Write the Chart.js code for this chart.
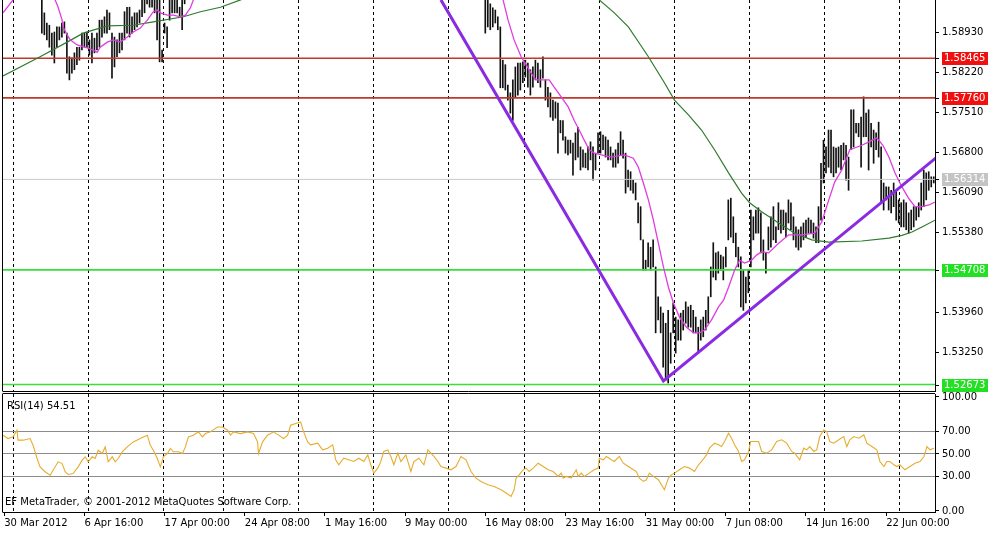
<!DOCTYPE html>
<html>
<head>
<meta charset="utf-8">
<script src="https://cdn.jsdelivr.net/npm/chart.js@4.4.0/dist/chart.umd.min.js"></script>
<style>
  html, body { margin: 0; padding: 0; background: #fff; }
  #wrap { position: relative; width: 1001px; height: 538px; overflow: hidden; }
  #priceChart { position: absolute; left: 0; top: 0; }
  #rsiChart { position: absolute; left: 0; top: 392px; }
</style>
</head>
<body>
<div id="wrap">
  <canvas id="priceChart" width="1001" height="392"></canvas>
  <canvas id="rsiChart" width="1001" height="146"></canvas>
</div>
<script>
// H4 bars, indexed from the left edge of the window
const barTotal = 372;
const barsPerLabel = 32;
const dateLabels = ["30 Mar 2012", "6 Apr 16:00", "17 Apr 00:00", "24 Apr 08:00", "1 May 16:00", "9 May 00:00",
  "16 May 08:00", "23 May 16:00", "31 May 00:00", "7 Jun 08:00", "14 Jun 16:00", "22 Jun 00:00"];
const gridBars = [3.5, 33.5, 63.5, 87.5, 117.5, 147.5, 177.5, 207.5, 237.5, 267.5, 297.5, 327.5, 357.5];

const priceMin = 1.52558;
const priceMax = 1.59498;
const priceTicks = [1.58930, 1.58220, 1.57510, 1.56800, 1.56090, 1.55380, 1.53960, 1.53250];
const levelPrices = [1.58465, 1.57760, 1.56314, 1.54708, 1.52673];
const levelKinds = ["resistance", "resistance", "bid", "support", "support"];

// bars before index 15 and between 73 and 191 are above the visible price range
const leftStart = 15;
const leftHigh = [1.5959, 1.5927, 1.5909, 1.5905, 1.5891, 1.5893, 1.5902, 1.5902, 1.5909, 1.5911,
  1.5891, 1.5849, 1.5847, 1.5856, 1.5866, 1.5866, 1.5891, 1.5891, 1.5893, 1.5879,
  1.5891, 1.5882, 1.5891, 1.5914, 1.5914, 1.5920, 1.5932, 1.5927, 1.5891, 1.5884,
  1.5879, 1.5891, 1.5891, 1.5929, 1.5937, 1.5937, 1.5920, 1.5927, 1.5927, 1.5932,
  1.5955, 1.5959, 1.5962, 1.5959, 1.5959, 1.5955, 1.5955, 1.5955, 1.5861, 1.5909,
  1.5902, 1.5955, 1.5959, 1.5959, 1.5959, 1.5937, 1.5955, 1.5959];
const leftLow = [1.5891, 1.5888, 1.5879, 1.5866, 1.5852, 1.5838, 1.5866, 1.5879, 1.5884, 1.5891,
  1.5820, 1.5808, 1.5820, 1.5826, 1.5835, 1.5843, 1.5861, 1.5866, 1.5865, 1.5852,
  1.5838, 1.5856, 1.5861, 1.5866, 1.5884, 1.5891, 1.5891, 1.5897, 1.5811, 1.5831,
  1.5849, 1.5856, 1.5861, 1.5879, 1.5891, 1.5884, 1.5891, 1.5897, 1.5902, 1.5909,
  1.5920, 1.5927, 1.5943, 1.5937, 1.5937, 1.5927, 1.5879, 1.5840, 1.5840, 1.5891,
  1.5865, 1.5914, 1.5927, 1.5927, 1.5927, 1.5920, 1.5897, 1.5943];

const rightStart = 192;
const rightHigh = [1.5955, 1.5955, 1.5943, 1.5936, 1.5932, 1.5920, 1.5902, 1.5843, 1.5835, 1.5799,
  1.5785, 1.5808, 1.5831, 1.5838, 1.5838, 1.5840, 1.5843, 1.5838, 1.5826, 1.5831,
  1.5843, 1.5838, 1.5826, 1.5849, 1.5808, 1.5795, 1.5785, 1.5772, 1.5769, 1.5767,
  1.5736, 1.5736, 1.5707, 1.5701, 1.5701, 1.5696, 1.5714, 1.5724, 1.5689, 1.5684,
  1.5678, 1.5689, 1.5698, 1.5689, 1.5678, 1.5714, 1.5716, 1.5710, 1.5707, 1.5701,
  1.5689, 1.5678, 1.5684, 1.5696, 1.5716, 1.5701, 1.5678, 1.5648, 1.5645, 1.5630,
  1.5625, 1.5590, 1.5583, 1.5524, 1.5488, 1.5519, 1.5511, 1.5524, 1.5476, 1.5423,
  1.5405, 1.5394, 1.5376, 1.5399, 1.5359, 1.5412, 1.5387, 1.5382, 1.5394, 1.5399,
  1.5414, 1.5405, 1.5408, 1.5399, 1.5387, 1.5369, 1.5382, 1.5387, 1.5399, 1.5423,
  1.5476, 1.5519, 1.5501, 1.5503, 1.5497, 1.5494, 1.5511, 1.5595, 1.5598, 1.5565,
  1.5536, 1.5511, 1.5494, 1.5470, 1.5458, 1.5470, 1.5577, 1.5565, 1.5577, 1.5581,
  1.5572, 1.5524, 1.5501, 1.5547, 1.5565, 1.5583, 1.5547, 1.5590, 1.5577, 1.5577,
  1.5572, 1.5595, 1.5590, 1.5565, 1.5547, 1.5542, 1.5547, 1.5554, 1.5559, 1.5563,
  1.5559, 1.5554, 1.5547, 1.5583, 1.5660, 1.5701, 1.5689, 1.5719, 1.5719, 1.5689,
  1.5687, 1.5689, 1.5692, 1.5696, 1.5692, 1.5671, 1.5755, 1.5755, 1.5731, 1.5731,
  1.5742, 1.5778, 1.5749, 1.5755, 1.5731, 1.5719, 1.5714, 1.5733, 1.5689, 1.5625,
  1.5618, 1.5618, 1.5612, 1.5625, 1.5612, 1.5595, 1.5590, 1.5595, 1.5590, 1.5572,
  1.5577, 1.5583, 1.5583, 1.5590, 1.5625, 1.5648, 1.5643, 1.5645, 1.5636, 1.5636];
const rightLow = [1.5891, 1.5902, 1.5897, 1.5902, 1.5909, 1.5897, 1.5794, 1.5794, 1.5790, 1.5772,
  1.5749, 1.5736, 1.5778, 1.5781, 1.5790, 1.5803, 1.5813, 1.5795, 1.5781, 1.5795,
  1.5808, 1.5803, 1.5795, 1.5811, 1.5772, 1.5760, 1.5742, 1.5736, 1.5740, 1.5678,
  1.5714, 1.5701, 1.5678, 1.5675, 1.5678, 1.5639, 1.5666, 1.5671, 1.5648, 1.5653,
  1.5652, 1.5648, 1.5666, 1.5630, 1.5648, 1.5678, 1.5678, 1.5684, 1.5671, 1.5666,
  1.5666, 1.5653, 1.5653, 1.5660, 1.5675, 1.5669, 1.5607, 1.5618, 1.5612, 1.5607,
  1.5595, 1.5554, 1.5524, 1.5470, 1.5470, 1.5476, 1.5470, 1.5476, 1.5359, 1.5382,
  1.5359, 1.5298, 1.5275, 1.5270, 1.5305, 1.5359, 1.5323, 1.5346, 1.5346, 1.5364,
  1.5376, 1.5369, 1.5369, 1.5359, 1.5359, 1.5323, 1.5346, 1.5352, 1.5364, 1.5376,
  1.5423, 1.5458, 1.5453, 1.5465, 1.5470, 1.5453, 1.5476, 1.5524, 1.5529, 1.5519,
  1.5494, 1.5476, 1.5405, 1.5399, 1.5412, 1.5430, 1.5476, 1.5524, 1.5536, 1.5536,
  1.5501, 1.5488, 1.5465, 1.5506, 1.5511, 1.5524, 1.5519, 1.5542, 1.5536, 1.5542,
  1.5529, 1.5554, 1.5542, 1.5524, 1.5511, 1.5506, 1.5511, 1.5524, 1.5529, 1.5536,
  1.5536, 1.5527, 1.5519, 1.5519, 1.5559, 1.5625, 1.5643, 1.5653, 1.5643, 1.5636,
  1.5643, 1.5653, 1.5648, 1.5666, 1.5630, 1.5612, 1.5684, 1.5689, 1.5714, 1.5707,
  1.5653, 1.5707, 1.5707, 1.5648, 1.5689, 1.5660, 1.5684, 1.5671, 1.5590, 1.5577,
  1.5595, 1.5577, 1.5572, 1.5583, 1.5559, 1.5554, 1.5547, 1.5547, 1.5542, 1.5536,
  1.5542, 1.5547, 1.5559, 1.5565, 1.5577, 1.5583, 1.5595, 1.5612, 1.5618, 1.5625];

// [bar, price]
const fastMa = [[-0.5, 1.5927], [3.5, 1.5950], [5.5, 1.5968], [19, 1.5968], [20.3, 1.5950], [21.5, 1.5937],
  [23.1, 1.5914], [23.5, 1.5902], [25.1, 1.5888], [26.3, 1.5879], [29.1, 1.5870], [33.1, 1.5865], [35.5, 1.5861],
  [37.1, 1.5857], [38.3, 1.5866], [41.1, 1.5875], [43.5, 1.5879], [46.3, 1.5875], [49.1, 1.5884], [51.5, 1.5893],
  [54.3, 1.5900], [57.1, 1.5914], [59.5, 1.5929], [61.1, 1.5932], [62.3, 1.5927], [65.1, 1.5923], [67.5, 1.5923],
  [70.3, 1.5920], [72.3, 1.5923], [74.3, 1.5936], [75.5, 1.5950], [77.5, 1.5968], [197.9, 1.5968], [199.1, 1.5950],
  [201.1, 1.5914], [203.5, 1.5879], [206.3, 1.5849], [208.3, 1.5835], [210.3, 1.5820], [212.3, 1.5808], [215.1, 1.5808],
  [217.5, 1.5808], [219.5, 1.5795], [222.3, 1.5778], [225.1, 1.5760], [227.5, 1.5736], [229.5, 1.5719], [231.5, 1.5701],
  [233.5, 1.5684], [235.5, 1.5678], [238.3, 1.5675], [242.3, 1.5671], [247.5, 1.5675], [251.1, 1.5669], [253.1, 1.5653],
  [255.1, 1.5625], [257.1, 1.5595], [259.1, 1.5559], [261.1, 1.5518], [263.1, 1.5476], [265.1, 1.5440], [267.1, 1.5412],
  [269.5, 1.5387], [272.3, 1.5369], [275.1, 1.5359], [277.5, 1.5359], [279.5, 1.5364], [282.3, 1.5382], [285.1, 1.5405],
  [287.1, 1.5417], [289.1, 1.5440], [291.5, 1.5470], [293.5, 1.5488], [295.5, 1.5483], [298.3, 1.5488], [300.3, 1.5497],
  [302.3, 1.5503], [305.1, 1.5501], [309.1, 1.5518], [313.1, 1.5533], [318.3, 1.5533], [323.5, 1.5536], [326.3, 1.5556],
  [329.1, 1.5595], [331.5, 1.5627], [334.3, 1.5648], [337.5, 1.5684], [342.3, 1.5692], [345.1, 1.5698], [348.3, 1.5705],
  [350.7, 1.5692], [353.1, 1.5671], [355.5, 1.5643], [358.3, 1.5618], [361.1, 1.5597], [363.5, 1.5583], [366.3, 1.5583],
  [369.1, 1.5586], [371.5, 1.5591]];
const slowMa = [[-0.5, 1.5815], [14.3, 1.5849], [25.1, 1.5875], [31.5, 1.5891], [41.1, 1.5904], [51.5, 1.5905],
  [59.5, 1.5911], [71.5, 1.5920], [78.3, 1.5929], [86.3, 1.5937], [94.3, 1.5950], [102.3, 1.5968], [234.3, 1.5968],
  [237.5, 1.5950], [243.5, 1.5927], [249.1, 1.5902], [253.5, 1.5873], [257.1, 1.5849], [263.5, 1.5803], [267.5, 1.5772],
  [273.1, 1.5746], [278.3, 1.5719], [283.5, 1.5684], [289.1, 1.5643], [294.3, 1.5607], [297.5, 1.5590], [302.3, 1.5574],
  [309.1, 1.5554], [315.5, 1.5536], [322.3, 1.5524], [329.1, 1.5520], [342.3, 1.5522], [353.1, 1.5527], [358.3, 1.5532],
  [362.3, 1.5538], [366.3, 1.5547], [371.5, 1.5559]];
const trendLine = [[174.3, 1.5950], [263.1, 1.52735], [372.3, 1.56711]];

const rsiTicks = [100, 70, 50, 30, 0];
const rsiLevels = [70, 50, 30];
const rsiPoints = [[-0.5, 66.5], [1.5, 63.5], [3.5, 65], [5.1, 70.8], [5.5, 62.1], [7.5, 62.1], [10.3, 63.5],
  [11.5, 57.7], [13.1, 46], [14.3, 38.7], [16.3, 34.4], [18.3, 31.4], [19.5, 35.8], [21.5, 43.1], [23.1, 41.6],
  [24.3, 34.4], [25.5, 32], [27.5, 32.9], [29.5, 38.7], [31.1, 44.6], [32.3, 47.5], [33.5, 43.1], [35.1, 47.5],
  [36.3, 46], [37.5, 53.3], [39.1, 50.4], [40.3, 56.2], [41.5, 43.1], [43.1, 47.5], [44.3, 43.1], [45.5, 46],
  [47.1, 51.9], [49.1, 56.2], [51.5, 60.6], [54.3, 63.5], [57.1, 66.5], [58.3, 57.7], [59.5, 53.3], [61.1, 46],
  [62.3, 38.7], [63.5, 47.5], [65.1, 50.4], [66.3, 54.8], [67.5, 51.9], [69.5, 51.9], [71.1, 50.4], [72.3, 56.2],
  [73.5, 65], [75.5, 66.5], [77.5, 69.4], [79.1, 65], [80.3, 67.9], [82.3, 69.4], [85.1, 73.7], [87.1, 73.7],
  [89.1, 70.8], [90.3, 66.5], [91.5, 69.4], [94.3, 67.9], [97.1, 69.4], [99.5, 67.9], [101.1, 60.6], [101.5, 50.4],
  [103.1, 60.6], [105.1, 66.5], [107.5, 69.4], [109.5, 66.5], [111.5, 63.5], [113.1, 66.5], [114.3, 75.2],
  [116.3, 76.7], [118.3, 78.1], [119.5, 69.4], [121.1, 60.6], [122.3, 58], [125.1, 59.5], [127.1, 53.6],
  [129.1, 55.1], [131.1, 58], [132.3, 44.9], [133.5, 40.5], [135.5, 46.3], [137.5, 44.9], [139.5, 43.4],
  [141.5, 46.3], [143.5, 43.4], [145.1, 49.2], [146.3, 40.5], [147.5, 33.2], [149.1, 37.6], [150.3, 43.4],
  [151.5, 52.2], [153.1, 53.6], [154.3, 47.8], [155.5, 40.5], [157.1, 50.7], [158.3, 43.4], [160.3, 49.2],
  [162.3, 34.6], [163.5, 43.4], [165.5, 46.3], [167.5, 40.5], [169.1, 53.6], [170.3, 50.7], [171.5, 47.8],
  [173.1, 43.4], [174.3, 39], [176.3, 37.6], [178.3, 36.1], [180.3, 39], [182.3, 47.8], [184.3, 44.9],
  [186.3, 34.6], [188.3, 28.8], [190.3, 25.9], [193.1, 23], [195.5, 21.5], [198.3, 18.6], [200.3, 15.7],
  [202.3, 12.8], [203.5, 18.6], [204.3, 28.8], [205.5, 31.7], [207.1, 36.1], [208.3, 37.6], [209.5, 34.6],
  [211.1, 37.6], [213.1, 41.9], [215.1, 39], [217.1, 36.1], [219.1, 34.6], [221.1, 30.3], [222.3, 33.2],
  [223.1, 28.8], [224.3, 30.3], [226.3, 28.8], [228.3, 36.1], [229.1, 30.3], [230.3, 33.2], [231.5, 30.3],
  [233.5, 33.2], [235.5, 36.1], [237.1, 37.6], [237.5, 46.3], [239.1, 44.9], [240.3, 47.8], [242.3, 44.9],
  [243.5, 43.4], [245.5, 47.8], [247.1, 41.9], [249.1, 39], [251.1, 36.1], [252.3, 34.6], [253.5, 28.8],
  [255.1, 25.9], [256.3, 27.4], [257.5, 33.2], [259.1, 30.3], [261.1, 27.4], [262.3, 23], [263.5, 18.6],
  [265.1, 28.8], [266.3, 31.7], [267.5, 33.2], [269.5, 36.1], [271.5, 39], [273.5, 37.6], [275.5, 34.6],
  [277.1, 40.5], [278.3, 43.4], [280.3, 49.2], [281.5, 55.1], [283.5, 59.5], [285.1, 58], [286.3, 56.5],
  [287.5, 60.9], [289.1, 68.2], [290.3, 63.8], [291.5, 58], [293.1, 52.2], [294.3, 43.4], [295.5, 44.9],
  [297.1, 52.2], [297.9, 60.9], [299.5, 60.9], [301.1, 60.9], [302.3, 52.2], [304.3, 50.7], [306.3, 53.6],
  [308.3, 60.9], [310.3, 62.4], [312.3, 59.5], [314.3, 52.2], [315.5, 50.7], [317.5, 44.9], [319.1, 55.1],
  [320.3, 53.6], [321.5, 56.5], [323.1, 52.2], [324.3, 53.6], [325.5, 65.3], [327.1, 71.1], [328.3, 69.7],
  [329.5, 60.9], [331.1, 59.5], [333.1, 62.4], [335.1, 65.3], [336.3, 56.5], [337.5, 62.4], [339.1, 65.3],
  [341.1, 63.8], [343.1, 66.7], [344.3, 59.5], [346.3, 56.5], [348.3, 53.6], [349.5, 43.4], [351.1, 39],
  [352.3, 43.4], [353.5, 43.4], [355.1, 40.5], [356.3, 39], [357.5, 40.5], [359.5, 36.1], [361.5, 39],
  [363.5, 41.9], [365.5, 43.4], [367.1, 47.8], [368.3, 56.5], [369.5, 53.6], [371.1, 55.1]];
const rsiCurrent = 54.51;

const FONT = { family: "'DejaVu Sans', sans-serif", size: 10 };
const levelStyle = {
  resistance: { line: "#c0392b", box: "#f01010" },
  bid: { line: "#c8c8c8", box: "#c4c4c4" },
  support: { line: "#38e038", box: "#22e022" }
};

function toXY(pairs) {
  return pairs.map(([x, y]) => ({ x, y }));
}

function barPoints(start, highs, lows) {
  return highs.map((h, i) => ({ x: start + i, y: [lows[i], h] }));
}

function noPadding(scale) {
  scale.paddingTop = 0;
  scale.paddingBottom = 0;
  scale.paddingLeft = 0;
  scale.paddingRight = 0;
}

function gridAxis() {
  return {
    type: "linear",
    position: "bottom",
    min: -0.5,
    max: barTotal - 0.5,
    offset: false,
    afterBuildTicks: (s) => { s.ticks = gridBars.map((v) => ({ value: v })); },
    ticks: { display: false },
    grid: { color: "#000", lineWidth: 1, drawTicks: false, offset: false },
    border: { display: false, dash: [3, 3] },
    afterFit: (s) => { s.height = 0; noPadding(s); }
  };
}

// left / bottom / top frame lines of each panel
const framePlugin = {
  id: "frame",
  afterDraw(chart, args, opts) {
    const { ctx, chartArea: a } = chart;
    ctx.save();
    ctx.strokeStyle = "#000";
    ctx.lineWidth = 1;
    ctx.beginPath();
    ctx.moveTo(a.left - 0.5, a.top);
    ctx.lineTo(a.left - 0.5, a.bottom);
    if (opts.top) {
      ctx.moveTo(a.left - 0.5, a.top - 0.5);
      ctx.lineTo(a.right, a.top - 0.5);
    }
    ctx.moveTo(a.left - 0.5, a.bottom + 0.5);
    ctx.lineTo(a.right, a.bottom + 0.5);
    ctx.stroke();
    ctx.restore();
  }
};

const priceTagPlugin = {
  id: "priceTags",
  afterDraw(chart) {
    const { ctx } = chart;
    const y = chart.scales.y;
    ctx.save();
    ctx.font = "10px 'DejaVu Sans'";
    ctx.textBaseline = "middle";
    levelPrices.forEach((p, i) => {
      const st = levelStyle[levelKinds[i]];
      const py = Math.round(y.getPixelForValue(p));
      ctx.fillStyle = st.box;
      ctx.fillRect(y.left + 7, py - 6, 46, 13);
      ctx.fillStyle = "#fff";
      ctx.fillText(p.toFixed(5), y.left + 9, py + 0.5);
      ctx.strokeStyle = "#000";
      ctx.beginPath();
      ctx.moveTo(y.left, py + 0.5);
      ctx.lineTo(y.left + 4, py + 0.5);
      ctx.stroke();
    });
    ctx.restore();
  }
};

const rsiTextPlugin = {
  id: "rsiText",
  afterDraw(chart) {
    const { ctx, chartArea: a } = chart;
    ctx.save();
    ctx.font = "10px 'DejaVu Sans'";
    ctx.fillStyle = "#000";
    ctx.textBaseline = "middle";
    ctx.fillText("RSI(14) " + rsiCurrent.toFixed(2), a.left + 4, a.top + 12);
    ctx.fillText("EF MetaTrader, \u00a9 2001-2012 MetaQuotes Software Corp.", a.left + 2, a.bottom - 10);
    ctx.restore();
  }
};

const levelDatasets = levelPrices.map((p, i) => ({
  type: "line",
  data: [{ x: -0.5, y: p }, { x: barTotal - 0.5, y: p }],
  borderColor: levelStyle[levelKinds[i]].line,
  borderWidth: levelKinds[i] === "bid" ? 1 : 1.6,
  pointRadius: 0,
  order: 4,
  clip: 0
}));

new Chart(document.getElementById("priceChart"), {
  type: "bar",
  data: {
    datasets: [
      {
        type: "bar",
        data: [...barPoints(leftStart, leftHigh, leftLow), ...barPoints(rightStart, rightHigh, rightLow)],
        backgroundColor: "#111",
        borderWidth: 0,
        barThickness: 1,
        grouped: false,
        order: 5,
        clip: 0
      },
      ...levelDatasets,
      {
        type: "line",
        data: toXY(slowMa),
        borderColor: "#2f7a2f",
        borderWidth: 1.2,
        pointRadius: 0,
        order: 3,
        clip: 0
      },
      {
        type: "line",
        data: toXY(fastMa),
        borderColor: "#e03ce0",
        borderWidth: 1.3,
        pointRadius: 0,
        order: 2,
        clip: 0
      },
      {
        type: "line",
        data: toXY(trendLine),
        borderColor: "#8a2be2",
        borderWidth: 3,
        pointRadius: 0,
        order: 1,
        clip: 0
      }
    ]
  },
  options: {
    responsive: false,
    devicePixelRatio: 1,
    animation: false,
    events: [],
    layout: { padding: { left: 3, top: 0, right: 0, bottom: 1 } },
    plugins: { legend: { display: false }, tooltip: { enabled: false }, frame: { top: false } },
    scales: {
      x: { type: "linear", display: false, min: -0.5, max: barTotal - 0.5, offset: false },
      xg: gridAxis(),
      y: {
        position: "right",
        min: priceMin,
        max: priceMax,
        afterBuildTicks: (s) => { s.ticks = priceTicks.map((v) => ({ value: v })); },
        ticks: { color: "#000", font: FONT, padding: 3, callback: (v) => Number(v).toFixed(5) },
        grid: { drawOnChartArea: false, tickLength: 4, tickColor: "#000" },
        border: { color: "#000" },
        afterFit: (s) => { s.width = 66; noPadding(s); }
      }
    }
  },
  plugins: [framePlugin, priceTagPlugin]
});

new Chart(document.getElementById("rsiChart"), {
  type: "line",
  data: {
    datasets: [
      {
        data: toXY(rsiPoints),
        borderColor: "#e6ad2e",
        borderWidth: 1.1,
        pointRadius: 0,
        clip: 0
      }
    ]
  },
  options: {
    responsive: false,
    devicePixelRatio: 1,
    animation: false,
    events: [],
    layout: { padding: { left: 3, top: 2, right: 0, bottom: 0 } },
    plugins: { legend: { display: false }, tooltip: { enabled: false }, frame: { top: true } },
    scales: {
      xg: gridAxis(),
      x: {
        type: "linear",
        position: "bottom",
        min: -0.5,
        max: barTotal - 0.5,
        offset: false,
        afterBuildTicks: (s) => { s.ticks = dateLabels.map((_, i) => ({ value: i * barsPerLabel })); },
        ticks: {
          color: "#000",
          font: FONT,
          padding: 1,
          align: "start",
          autoSkip: false,
          maxRotation: 0,
          callback: (v, i) => dateLabels[i]
        },
        grid: { drawOnChartArea: false, tickLength: 4, tickColor: "#000" },
        border: { color: "#000" },
        afterFit: (s) => { s.height = 26; noPadding(s); }
      },
      y: {
        position: "right",
        min: -0.9,
        max: 102.6,
        afterBuildTicks: (s) => { s.ticks = rsiTicks.map((v) => ({ value: v })); },
        ticks: { color: "#000", font: FONT, padding: 3, callback: (v) => Number(v).toFixed(2) },
        grid: {
          color: (c) => (c.tick && rsiLevels.includes(c.tick.value) ? "#8c8c8c" : "rgba(0,0,0,0)"),
          tickLength: 4,
          tickColor: "#000"
        },
        border: { color: "#000" },
        afterFit: (s) => { s.width = 66; noPadding(s); }
      }
    }
  },
  plugins: [framePlugin, rsiTextPlugin]
});
</script>
</body>
</html>
